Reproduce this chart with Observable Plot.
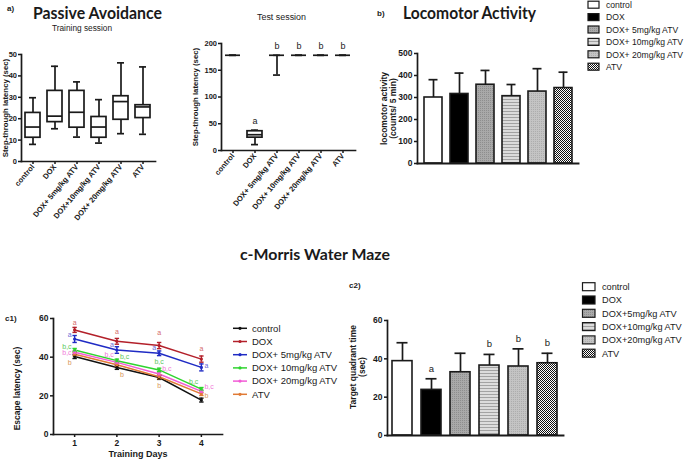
<!DOCTYPE html>
<html><head><meta charset="utf-8">
<script src="https://cdn.jsdelivr.net/npm/d3@7"></script>
<script src="https://cdn.jsdelivr.net/npm/@observablehq/plot@0.6"></script>
<style>
body{margin:0;background:#fff;}
#root{position:relative;width:685px;height:462px;overflow:hidden;background:#fff;}
.panel{position:absolute;}
#overlay{position:absolute;left:0;top:0;pointer-events:none;}
</style>
</head><body>
<div id="root">
<div class="panel" id="a1" style="left:0;top:40px"></div>
<div class="panel" id="a2" style="left:185px;top:30px"></div>
<div class="panel" id="b" style="left:360px;top:40px"></div>
<div class="panel" id="c1" style="left:0;top:300px"></div>
<div class="panel" id="c2" style="left:340px;top:290px"></div>
<svg id="overlay" width="685" height="462">
<defs>
<pattern id="p5" width="2" height="2" patternUnits="userSpaceOnUse"><rect width="2" height="2" fill="#a9a9a9"/><rect width="1" height="1" fill="#8e8e8e"/></pattern>
<pattern id="p10" width="3" height="3" patternUnits="userSpaceOnUse"><rect width="3" height="3" fill="#dcdcdc"/><rect y="2" width="3" height="1" fill="#a2a2a2"/></pattern>
<pattern id="p20" width="2" height="2" patternUnits="userSpaceOnUse"><rect width="2" height="2" fill="#c4c4c4"/><rect x="1" y="1" width="1" height="1" fill="#adadad"/></pattern>
<pattern id="pATV" width="2" height="2" patternUnits="userSpaceOnUse"><rect width="2" height="2" fill="#ffffff"/><rect width="1" height="1" fill="#111"/><rect x="1" y="1" width="1" height="1" fill="#111"/></pattern>
</defs>
</svg>
</div>
<script>
// ---------- data ----------
const groupLabelsTrain = ["control","DOX","DOX+ 5mg/kg ATV","DOX+10mg/kg ATV","DOX+ 20mg/kg ATV","ATV"];
const groupLabelsTest = ["control","DOX","DOX+ 5mg/kg ATV","DOX+ 10mg/kg ATV","DOX+ 20mg/kg ATV","ATV"];
const trainMin = [8, 15.3, 11.4, 8.6, 13, 12.7];
const trainQ1  = [11.1, 18.4, 15.8, 11.1, 19.5, 20.3];
const trainMed = [16.1, 21.2, 23, 16.1, 28, 25.5];
const trainQ3  = [22.7, 33, 33, 20.8, 30.5, 26.3];
const trainMax = [29.8, 44.5, 37.2, 28.9, 46.1, 44.2];
const testMin = [178, 11, 141, 178, 178, 178];
const testQ1  = [178, 24, 178, 178, 178, 178];
const testMed = [178, 29.5, 178, 178, 178, 178];
const testQ3  = [178, 36, 178, 178, 178, 178];
const testMax = [178, 38, 178, 178, 178, 178];
const testLetters = ["", "a", "b", "b", "b", "b"];

const locoLegend = ["control","DOX","DOX+ 5mg/kg ATV","DOX+ 10mg/kg ATV","DOX+ 20mg/kg ATV","ATV"];
const locoMean = [300, 316, 358, 306, 327, 343];
const locoSem  = [81, 95, 65, 53, 104, 72];

const days = [1, 2, 3, 4];
const mwmSeries = ["control","DOX","DOX+ 5mg/kg ATV","DOX+ 10mg/kg ATV","DOX+ 20mg/kg ATV","ATV"];
const mwmControl = [40.3, 34.7, 29.5, 17.8];
const mwmDOX     = [54.1, 48.2, 46.0, 39.0];
const mwm5       = [49.4, 43.7, 42.0, 34.7];
const mwm10      = [43.7, 38.2, 33.4, 23.5];
const mwm20      = [42.5, 37.3, 31.3, 22.3];
const mwmATV     = [41.5, 36.1, 29.9, 21.0];
const semControl = [1, 1, 1, 1];
const semDOX     = [1.3, 1.5, 1.6, 1.6];
const sem5       = [1.8, 1.7, 1.2, 1.8];
const sem10      = [0.8, 0.8, 0.9, 0.8];
const sem20      = [0.8, 0.8, 1.0, 0.8];
const semATV     = [0.8, 0.8, 1.0, 0.8];
// annotation letters: series index, day, value, text, side
const mwmNotes = [
  [1,1,57.5,"a","c"],[2,1,51.5,"a","l"],[3,1,45.2,"b,c","l"],[4,1,42.3,"b,c","l"],[5,1,37,"b","l"],
  [1,2,52.8,"a","c"],[2,2,46.5,"a","l"],[4,2,41.1,"b,c","l"],[3,2,40.3,"b,c","r"],[5,2,30.9,"b","r"],
  [1,3,52,"a","c"],[2,3,44.8,"a","l"],[3,3,37.3,"b,c","c"],[4,3,34.2,"b,c","r"],[5,3,24.7,"b","c"],
  [1,4,43.9,"a","c"],[2,4,35.6,"a","r"],[3,4,27.5,"b,c","l"],[4,4,24.7,"b,c","r"],[5,4,20,"b","r"]
];

const tqLegend = ["control","DOX","DOX+5mg/kg ATV","DOX+10mg/kg ATV","DOX+20mg/kg ATV","ATV"];
const tqMean = [38.8, 23.8, 33, 36.5, 36, 37.7];
const tqSem  = [9.6, 5.8, 9.9, 5.8, 9.2, 5.2];
const tqLetters = ["", "a", "", "b", "b", "b"];

// ---------- styles ----------
const barFills = ["#ffffff","#000000","url(#p5)","url(#p10)","url(#p20)","url(#pATV)"];
const lineColors = ["#111111","#b3202a","#1f2bc4","#2fd42f","#f25ad6","#e07a35"];
const noteColors = ["#111111","#d46a6a","#6a6ad6","#5cc85c","#f07ad8","#d8975a"];
const FONT = "'Liberation Sans', Arial, Helvetica, sans-serif";
const AX = "#1a1a1a";
const idx = d3.range(6);
const hline = {draw(ctx, size){ const w = Math.sqrt(size/Math.PI); ctx.moveTo(-w,0); ctx.lineTo(w,0); }};

function baseStyle(fs){ return {fontFamily: FONT, fontSize: fs+"px", fontWeight: "bold", color: AX, background: "transparent", overflow: "visible"}; }

function boxPanel(el, cfg){
  const {min,q1,med,q3,max,labels,letters,yDomain,yTicks,ylabel,ldx,w,h,ml,mr,mt,mb} = cfg;
  const p = Plot.plot({
    width:w, height:h, marginLeft:ml, marginRight:mr, marginTop:mt, marginBottom:mb,
    style: baseStyle(8),
    x:{type:"band", domain: idx, paddingInner:0.3, paddingOuter:0.15},
    y:{domain: yDomain},
    marks:[
      Plot.ruleX(idx, {x:i=>i, y1:i=>min[i], y2:i=>max[i], stroke:AX, strokeWidth:1.7}),
      Plot.tickY(idx, {x:i=>i, y:i=>min[i], insetLeft:4, insetRight:4, stroke:AX, strokeWidth:1.7}),
      Plot.tickY(idx, {x:i=>i, y:i=>max[i], insetLeft:4, insetRight:4, stroke:AX, strokeWidth:1.7}),
      Plot.barY(idx, {x:i=>i, y1:i=>q1[i], y2:i=>q3[i], fill:"white", stroke:AX, strokeWidth:1.7}),
      Plot.tickY(idx, {x:i=>i, y:i=>med[i], stroke:AX, strokeWidth:1.7}),
      letters ? Plot.text(idx, {x:i=>i, y:i=>max[i], text:i=>letters[i], dy:-9, fontSize:9, fontWeight:"normal", fill:AX}) : null,
      Plot.frame({anchor:"left", stroke:AX, strokeWidth:1.7}),
      Plot.frame({anchor:"bottom", stroke:AX, strokeWidth:1.7}),
      Plot.axisY({ticks:yTicks, tickSize:3, tickPadding:1.5, label:null, stroke:AX, strokeWidth:1.5, fontSize:7.5, fontWeight:"bold"}),
      Plot.axisX({tickSize:3, tickPadding:1, tickRotate:-50, tickFormat:i=>labels[i], label:null, stroke:AX, strokeWidth:1.5, fontSize:7.6, fontWeight:"bold"}),
      Plot.text([ylabel], {frameAnchor:"left", textAnchor:"middle", rotate:-90, dx:ldx, fontSize:7.8, fontWeight:"bold", fill:AX})
    ]
  });
  el.appendChild(p);
}

boxPanel(document.getElementById("a1"), {
  min:trainMin,q1:trainQ1,med:trainMed,q3:trainQ3,max:trainMax,labels:groupLabelsTrain,letters:null,
  yDomain:[0,50], yTicks:[0,10,20,30,40,50], ylabel:"Step-through latency (sec)", ldx:-16.5,
  w:165,h:195,ml:21,mr:10,mt:14,mb:74
});
boxPanel(document.getElementById("a2"), {
  min:testMin,q1:testQ1,med:testMed,q3:testQ3,max:testMax,labels:groupLabelsTest,letters:testLetters,
  yDomain:[0,200], yTicks:[0,50,100,150,200], ylabel:"Step-through latency (sec)", ldx:-26,
  w:175,h:205,ml:36,mr:5,mt:13,mb:85
});

function barPanel(el, cfg){
  const {mean,sem,letters,yDomain,yTicks,ylabel,ldx,ldy,w,h,ml,mr,mt,mb} = cfg;
  const p = Plot.plot({
    width:w, height:h, marginLeft:ml, marginRight:mr, marginTop:mt, marginBottom:mb,
    style: baseStyle(8),
    x:{type:"band", domain: idx, paddingInner:0.31, paddingOuter:0.16, axis:null},
    y:{domain: yDomain},
    color:{type:"identity"},
    marks:[
      Plot.ruleX(idx, {x:i=>i, y1:i=>mean[i], y2:i=>mean[i]+sem[i], stroke:AX, strokeWidth:1.7}),
      Plot.tickY(idx, {x:i=>i, y:i=>mean[i]+sem[i], insetLeft:4.5, insetRight:4.5, stroke:AX, strokeWidth:1.7}),
      Plot.barY(idx, {x:i=>i, y1:0, y2:i=>mean[i], fill:i=>barFills[i], stroke:AX, strokeWidth:1.6}),
      letters ? Plot.text(idx, {x:i=>i, y:i=>mean[i]+sem[i], text:i=>letters[i], dy:-10, fontSize:9.5, fontWeight:"normal", fill:AX}) : null,
      Plot.frame({anchor:"left", stroke:AX, strokeWidth:1.7}),
      Plot.frame({anchor:"bottom", stroke:AX, strokeWidth:1.9}),
      Plot.axisY({ticks:yTicks, tickSize:3, tickPadding:2, label:null, stroke:AX, strokeWidth:1.5, fontSize:8.5, fontWeight:"bold"}),
      Plot.text([ylabel], {frameAnchor:"left", textAnchor:"middle", rotate:-90, dx:ldx, dy:ldy, fontSize:8.5, fontWeight:"bold", fill:AX, lineHeight:1.1})
    ]
  });
  el.appendChild(p);
}

barPanel(document.getElementById("b"), {
  mean:locoMean, sem:locoSem, letters:null, yDomain:[0,500], yTicks:[0,100,200,300,400,500],
  ylabel:"locomotor activity\n(counts/ 5 min)", ldx:-29, ldy:0,
  w:225,h:140,ml:57,mr:7,mt:13,mb:17
});
barPanel(document.getElementById("c2"), {
  mean:tqMean, sem:tqSem, letters:tqLetters, yDomain:[0,60], yTicks:[0,20,40,60],
  ylabel:"Target quadrant time\n(sec)", ldx:-30, ldy:-11,
  w:230,h:172,ml:47,mr:7,mt:30,mb:27
});

// MWM line chart
const mwmValues = [mwmControl, mwmDOX, mwm5, mwm10, mwm20, mwmATV];
const mwmSems = [semControl, semDOX, sem5, sem10, sem20, semATV];
const rows = [];
mwmSeries.forEach((s, si) => days.forEach((d, di) => rows.push({s: si, day: d, v: mwmValues[si][di], e: mwmSems[si][di]})));
const notes = mwmNotes.map(([s, day, v, t, side]) => ({s, day, v, t, side}));
const noteMark = (side, anchor, dx, dy) => Plot.text(notes.filter(n => n.side === side), {
  x:"day", y:"v", text:"t", fill:n=>noteColors[n.s], textAnchor:anchor, dx, dy, fontSize:7, fontWeight:"normal"});
const order = [0,5,4,3,2,1];
const rowsOrdered = order.flatMap(si => rows.filter(r => r.s === si));
const c1 = Plot.plot({
  width:230, height:162, marginLeft:53, marginRight:8, marginTop:18, marginBottom:28,
  style: baseStyle(8.5),
  x:{domain:[0.5,4.5]},
  y:{domain:[0,60]},
  color:{type:"identity"},
  marks:[
    Plot.line(rowsOrdered, {x:"day", y:"v", z:"s", stroke:r=>lineColors[r.s], strokeWidth:1.5}),
    Plot.ruleX(rowsOrdered, {x:"day", y1:r=>r.v-r.e, y2:r=>r.v+r.e, stroke:r=>lineColors[r.s], strokeWidth:1.4}),
    Plot.dot(rowsOrdered, {x:"day", y:r=>r.v+r.e, symbol:hline, r:2.2, stroke:r=>lineColors[r.s], strokeWidth:1.4}),
    Plot.dot(rowsOrdered, {x:"day", y:r=>r.v-r.e, symbol:hline, r:2.2, stroke:r=>lineColors[r.s], strokeWidth:1.4}),
    Plot.dot(rowsOrdered, {x:"day", y:"v", r:1.6, fill:r=>lineColors[r.s], stroke:null}),
    noteMark("c", "middle", 0, -1),
    noteMark("l", "end", -3, 0),
    noteMark("r", "start", 3, 0),
    Plot.frame({anchor:"left", stroke:AX, strokeWidth:1.7}),
    Plot.frame({anchor:"bottom", stroke:AX, strokeWidth:1.7}),
    Plot.axisY({ticks:[0,20,40,60], tickSize:3, tickPadding:2, label:null, stroke:AX, strokeWidth:1.5, fontSize:8.5, fontWeight:"bold"}),
    Plot.axisX({ticks:days, tickFormat:"d", tickSize:3, tickPadding:2, label:null, stroke:AX, strokeWidth:1.5, fontSize:8.5, fontWeight:"bold"}),
    Plot.text(["Escape latency (sec)"], {frameAnchor:"left", textAnchor:"middle", rotate:-90, dx:-36, dy:12, fontSize:8.5, fontWeight:"bold", fill:AX}),
    Plot.text(["Training Days"], {frameAnchor:"bottom", dy:22, fontSize:9, fontWeight:"bold", fill:AX})
  ]
});
document.getElementById("c1").appendChild(c1);

// ---------- overlay texts & legends ----------
const ov = d3.select("#overlay");
function txt(x, y, s, opt = {}){
  const t = ov.append("text").attr("x", x).attr("y", y).text(s)
    .attr("font-family", opt.family || FONT).attr("font-size", opt.size || 8)
    .attr("font-weight", opt.weight || "normal").attr("fill", opt.fill || AX);
  if (opt.len) t.attr("textLength", opt.len).attr("lengthAdjust", "spacingAndGlyphs");
  if (opt.anchor) t.attr("text-anchor", opt.anchor);
  return t;
}
const TITLE = "Lato, 'Open Sans', sans-serif";
txt(7, 10.5, "a)", {weight:"bold", size:8});
txt(33, 18.5, "Passive Avoidance", {family:TITLE, weight:"bold", size:17, len:129});
txt(52, 31, "Training session", {size:8.5, len:60});
txt(257, 20, "Test session", {size:8.5, len:49});
txt(377, 15.5, "b)", {weight:"bold", size:8});
txt(403, 18.5, "Locomotor Activity", {family:TITLE, weight:"bold", size:16.5, len:133});
txt(240, 260, "c-Morris Water Maze", {family:TITLE, weight:"bold", size:15.5, len:150});
txt(5, 321, "c1)", {weight:"bold", size:8});
txt(349, 288, "c2)", {weight:"bold", size:8});

// legend b
locoLegend.forEach((s, i) => {
  const cy = 4.7 + i * 12.4;
  ov.append("rect").attr("x", 588).attr("y", cy - 3.5).attr("width", 11).attr("height", 7)
    .attr("fill", barFills[i]).attr("stroke", AX).attr("stroke-width", 1.2);
  txt(606, cy + 3.2, s, {size:8.6});
});
// legend c2
tqLegend.forEach((s, i) => {
  const cy = 286.7 + i * 13.3;
  ov.append("rect").attr("x", 582.5).attr("y", cy - 4).attr("width", 12.5).attr("height", 8)
    .attr("fill", barFills[i]).attr("stroke", AX).attr("stroke-width", 1.2);
  txt(602, cy + 3.4, s, {size:9.2});
});
// legend c1
mwmSeries.forEach((s, i) => {
  const cy = 328.3 + i * 13.2;
  ov.append("line").attr("x1", 233).attr("x2", 247).attr("y1", cy).attr("y2", cy)
    .attr("stroke", lineColors[i]).attr("stroke-width", 1.5);
  ov.append("circle").attr("cx", 240).attr("cy", cy).attr("r", 1.6).attr("fill", lineColors[i]);
  txt(252, cy + 3.3, s, {size:9.5});
});
</script>
</body></html>
